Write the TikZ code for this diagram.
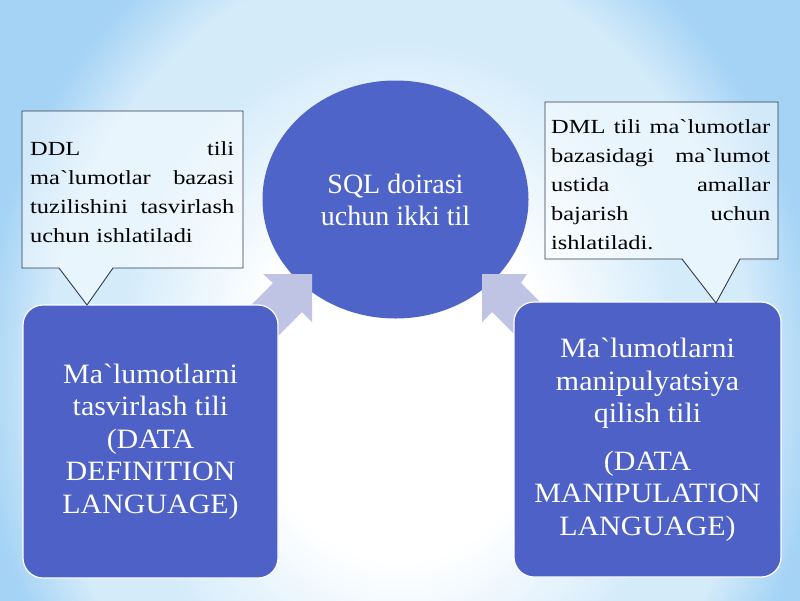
\documentclass[tikz,border=0pt]{standalone}
\usepackage{fontspec}
\setmainfont{Liberation Serif}[Ligatures=TeXOff]
\newfontfamily\callfont{Liberation Serif}[Ligatures=TeXOff,FakeStretch=1.22]
\newfontfamily\boxfont{Liberation Serif}[Ligatures=TeXOff,FakeStretch=1.07]
\definecolor{bgedge}{RGB}{165,211,245}
\definecolor{bgmid}{RGB}{212,235,250}
\definecolor{boxblue}{RGB}{77,97,198}
\definecolor{circblue}{RGB}{79,100,200}
\definecolor{arrowlav}{RGB}{192,196,228}
\definecolor{calloutline}{RGB}{47,60,78}
\pgfdeclareradialshading{bgshade}{\pgfpoint{0bp}{0bp}}{color(0bp)=(white); color(9bp)=(white); color(17bp)=(bgmid); color(21bp)=(bgmid); color(25bp)=(bgedge); color(50bp)=(bgedge)}
\tikzset{
  bluebox/.style={draw=white, line width=1.2pt, fill=boxblue, rounded corners=20pt,
    text=white, align=center, inner sep=0pt,
    font=\boxfont\fontsize{28}{32.5}\selectfont},
  sqlcirc/.style={ellipse, fill=circblue, text=white, align=center, inner sep=0pt,
    minimum width=266pt, minimum height=238pt,
    font=\fontsize{28}{32}\selectfont},
  callshape/.style={draw=calloutline, line width=0.9pt, fill=white, fill opacity=0.5, line join=miter},
  calltext/.style={text width=#1, align=left, inner sep=0pt, anchor=base west,
    font=\callfont\fontsize{20}{29}\selectfont},
  blockarrow/.style={fill=arrowlav, draw=none}
}
\usetikzlibrary{shapes.geometric}
\begin{document}
\begin{tikzpicture}[x=1pt,y=-1pt]
\useasboundingbox (0,0) rectangle (800,600);
% background
\begin{scope}
  \clip (0,0) rectangle (800,600);
  \fill[bgedge] (0,0) rectangle (800,600);
  \shade[shading=bgshade] (-20,-120) rectangle (820,880);
\end{scope}
% central circle
\node[sqlcirc] (sql) at (395.5,199.5) {SQL doirasi\\uchun ikki til};
% block arrows (box -> circle)
\path[blockarrow] (312,274) -- (312,322) -- (302,312) -- (262,352) -- (233,323) -- (273,283) -- (263,274) -- cycle;
\path[blockarrow] (482,274) -- (482,322) -- (492,312) -- (532,352) -- (561,323) -- (521,283) -- (527,274) -- cycle;
% boxes
\node[bluebox, minimum width=255pt, minimum height=273pt] (ddl) at (150.5,441.5)
  {Ma`lumotlarni\\tasvirlash tili\\(DATA\\DEFINITION\\LANGUAGE)};
\node[bluebox, minimum width=267pt, minimum height=275pt] (dml) at (647.5,439.5)
  {Ma`lumotlarni\\manipulyatsiya\\qilish tili\\[15pt](DATA\\MANIPULATION\\LANGUAGE)};
% callouts
\path[callshape] (22,111) -- (243,111) -- (243,268) -- (113,268) -- (87,305) -- (59,268) -- (22,268) -- cycle;
\node[calltext=204pt] (ddlnote) at (30,155)
  {DDL\hfill tili\\ma`lumotlar\hfill bazasi\\tuzilishini\hfill tasvirlash\\uchun ishlatiladi};
\path[callshape] (545,102) -- (778,102) -- (778,259) -- (740,259) -- (716,303) -- (682,259) -- (545,259) -- cycle;
\node[calltext=219pt] (dmlnote) at (551,133)
  {DML\hfill tili\hfill ma`lumotlar\\bazasidagi\hfill ma`lumot\\ustida\hfill amallar\\bajarish\hfill uchun\\ishlatiladi.};
\end{tikzpicture}
\end{document}
